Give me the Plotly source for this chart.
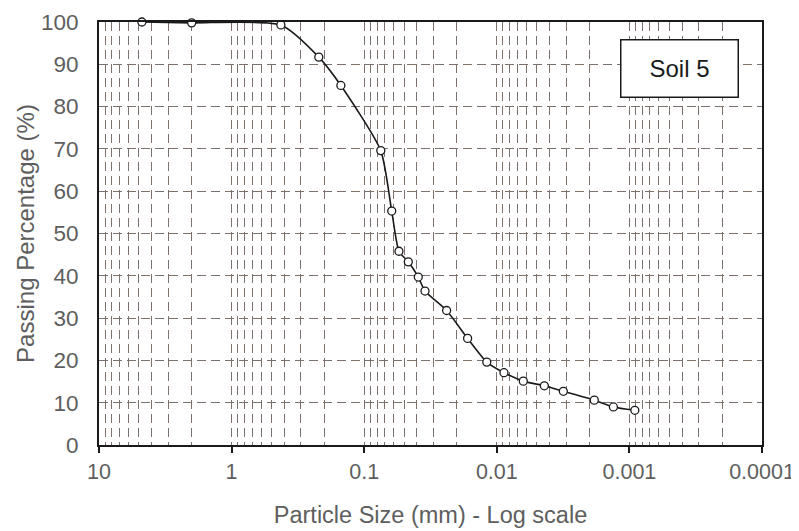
import plotly.graph_objects as go

particle_size_mm = [4.75, 2.0, 0.425, 0.22, 0.15, 0.075, 0.062, 0.0547, 0.0465, 0.0391,
                    0.0348, 0.0239, 0.0166, 0.0119, 0.00883, 0.00631, 0.00438, 0.00315,
                    0.00184, 0.00132, 0.00091]
passing_pct = [100.0, 99.8, 99.3, 91.7, 85.0, 69.6, 55.3, 45.8, 43.3, 39.7,
               36.4, 31.8, 25.2, 19.6, 17.1, 15.1, 14.0, 12.7, 10.6, 9.0, 8.2]

x_tick_vals = [10, 1, 0.1, 0.01, 0.001, 0.0001]
x_tick_text = ["10", "1", "0.1", "0.01", "0.001", "0.0001"]
y_tick_vals = [0, 10, 20, 30, 40, 50, 60, 70, 80, 90, 100]

label_text = "Soil 5"

grid_col = "#7d716c"
text_col = "#5e5e5e"
font_fam = "Liberation Sans, Arial, sans-serif"
dash = "9px,5px"

fig = go.Figure()
fig.add_trace(go.Scatter(
    x=particle_size_mm, y=passing_pct, mode="lines+markers",
    line=dict(color="#1a1a1a", width=1.6, shape="spline", smoothing=0.6),
    marker=dict(symbol="circle", size=8, color="white",
                line=dict(color="#1a1a1a", width=1.3)),
    showlegend=False, cliponaxis=False,
))

# the page body adds an 8px offset, so the figure is sized to fit inside it
fig.update_layout(
    width=791, height=523,
    margin=dict(l=91, r=37, t=13.5, b=86),
    paper_bgcolor="white", plot_bgcolor="white",
    font=dict(family=font_fam, color=text_col, size=21),
    xaxis=dict(
        type="log", range=[1, -4], automargin=False,
        tickvals=x_tick_vals, ticktext=x_tick_text,
        ticks="outside", ticklen=6, tickcolor="#1a1a1a", tickwidth=1.5,
        showline=True, linecolor="#1a1a1a", linewidth=2, mirror=True,
        showgrid=True, gridcolor=grid_col, gridwidth=1, griddash=dash,
        minor=dict(dtick="D1", showgrid=True, gridcolor=grid_col, gridwidth=1,
                   griddash=dash, ticks=""),
        title=dict(text="Particle Size (mm) - Log scale", font=dict(size=23.5, color=text_col),
                   standoff=24),
        tickfont=dict(size=21.5, color=text_col),
        ticklabeloverflow="allow",
        zeroline=False,
    ),
    yaxis=dict(
        range=[0, 100], tickvals=y_tick_vals, automargin=False,
        ticks="outside", ticklen=14, tickcolor="rgba(0,0,0,0)",
        showline=True, linecolor="#1a1a1a", linewidth=2, mirror=True,
        showgrid=True, gridcolor=grid_col, gridwidth=1.2, griddash=dash,
        title=dict(text="Passing Percentage (%)", font=dict(size=24, color=text_col),
                   standoff=0),
        tickfont=dict(size=22.5, color=text_col),
        ticklabeloverflow="allow",
        zeroline=False,
    ),
)

fig.add_annotation(
    xref="paper", yref="paper", x=0.875, y=0.891, xanchor="center", yanchor="middle",
    text=label_text, showarrow=False,
    font=dict(size=24, color="#1a1a1a", family=font_fam),
    bgcolor="white", bordercolor="#1a1a1a", borderwidth=1.5,
    width=114, height=54,
)

fig.write_html("out.html")
